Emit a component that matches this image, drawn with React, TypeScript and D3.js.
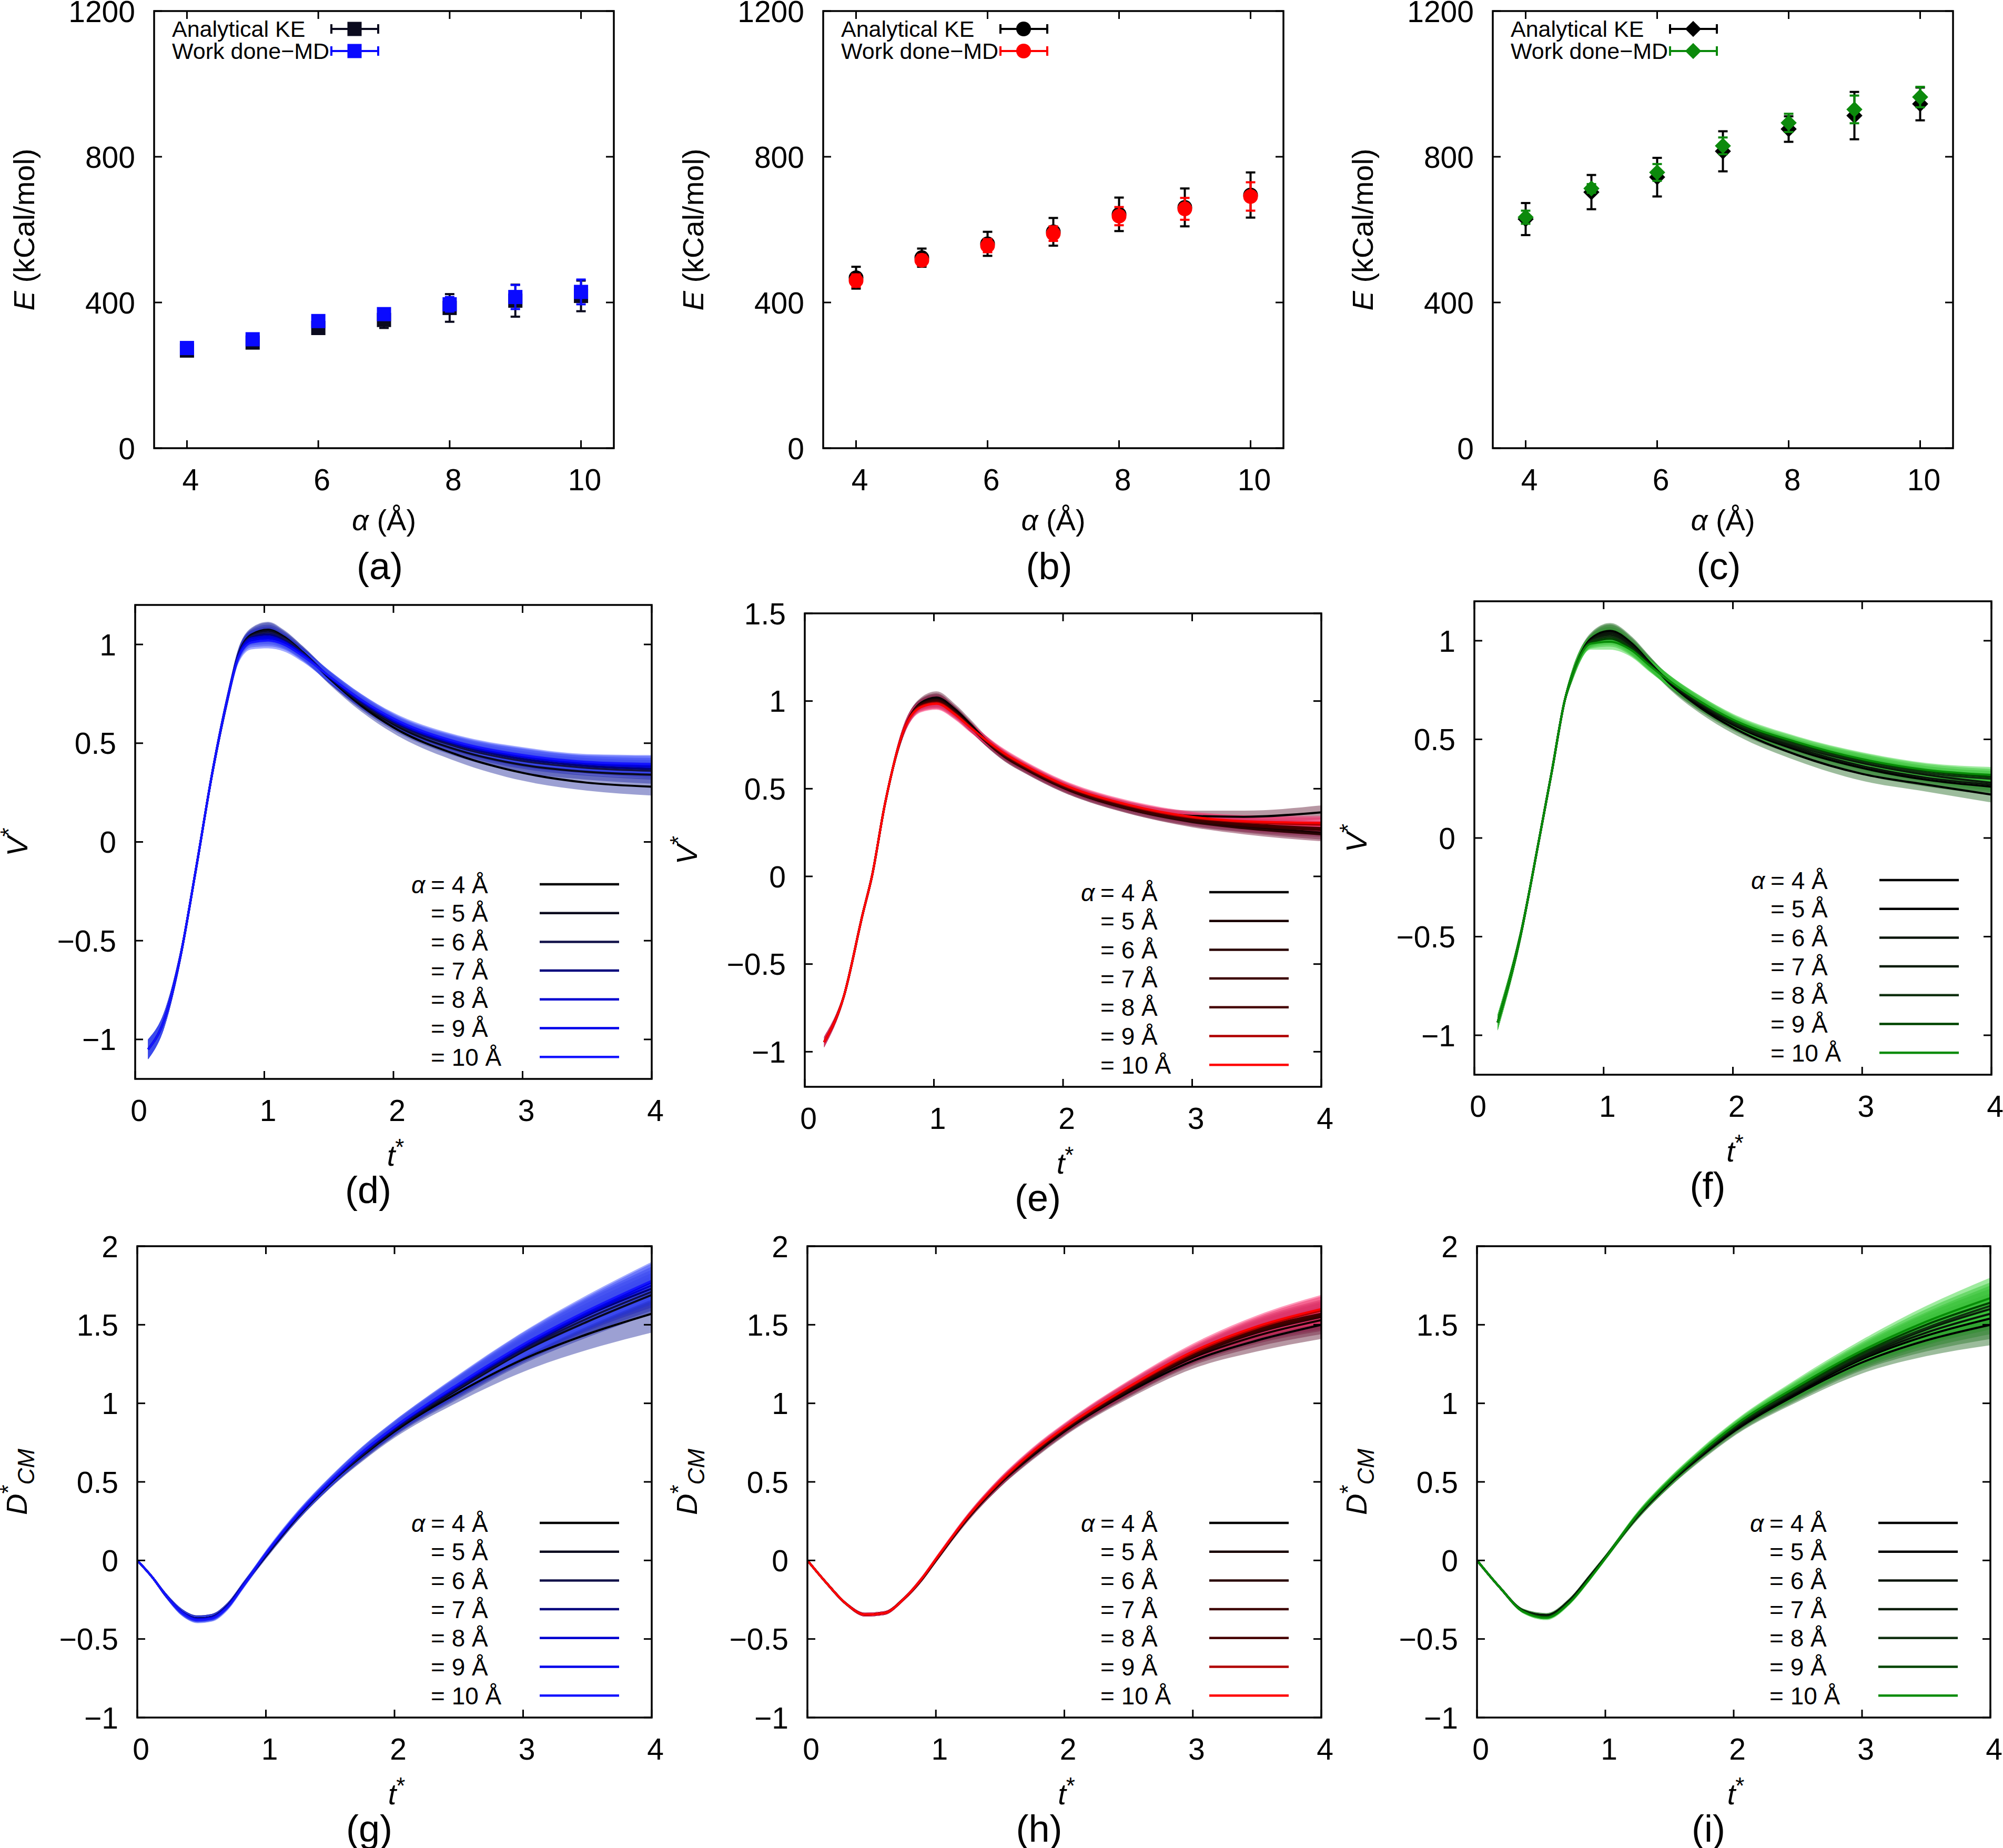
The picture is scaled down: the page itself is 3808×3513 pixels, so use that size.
'use client';
import React, { useEffect, useRef } from 'react';
import * as d3 from 'd3';

const FONT = '"Liberation Sans", Arial, Helvetica, sans-serif';
const WIDTH = 3808;
const HEIGHT = 3513;

// alpha (Å) for every series
const alphas = [4, 5, 6, 7, 8, 9, 10];

// ---- energy vs alpha, kcal/mol (panels a-c)
const keBlue = [268, 290, 330, 352, 385, 405, 418];
const keBlueErr = [12, 14, 16, 22, 38, 44, 42];
const mdBlue = [275, 299, 349, 368, 395, 415, 429];
const mdBlueErr = [8, 10, 12, 15, 20, 33, 34];

const keRed = [468, 523, 561, 594, 642, 661, 695];
const keRedErr = [30, 25, 33, 38, 46, 52, 62];
const mdRed = [460, 516, 556, 589, 637, 657, 691];
const mdRedErr = [17, 15, 18, 20, 25, 30, 39];

const keGreen = [629, 703, 744, 815, 876, 913, 945];
const keGreenErr = [44, 47, 53, 55, 35, 65, 45];
const mdGreen = [634, 713, 757, 830, 893, 930, 964];
const mdGreenErr = [18, 12, 23, 23, 25, 38, 28];

// ---- V* vs t* (panels d-f), one row per alpha
const vBlueT = [0.1, 0.22, 0.35, 0.47, 0.6, 0.72, 0.8, 0.9, 1.03, 1.15, 1.3, 1.5, 1.75, 2.0, 2.5, 3.0, 3.5, 4.0];
const vBlue = [
  [-1.05, -0.91, -0.58, -0.14, 0.36, 0.74, 0.95, 1.05, 1.075, 1.04, 0.96, 0.83, 0.69, 0.58, 0.44, 0.35, 0.3, 0.28],
  [-1.05, -0.91, -0.58, -0.14, 0.36, 0.74, 0.95, 1.045, 1.07, 1.035, 0.96, 0.835, 0.7, 0.595, 0.465, 0.39, 0.355, 0.34],
  [-1.05, -0.91, -0.58, -0.14, 0.36, 0.74, 0.945, 1.04, 1.06, 1.03, 0.955, 0.835, 0.705, 0.605, 0.48, 0.41, 0.375, 0.36],
  [-1.05, -0.91, -0.58, -0.14, 0.36, 0.74, 0.945, 1.035, 1.05, 1.02, 0.95, 0.835, 0.71, 0.61, 0.49, 0.42, 0.385, 0.37],
  [-1.05, -0.91, -0.58, -0.14, 0.36, 0.74, 0.94, 1.03, 1.04, 1.015, 0.95, 0.84, 0.715, 0.615, 0.495, 0.43, 0.395, 0.38],
  [-1.05, -0.91, -0.58, -0.14, 0.36, 0.74, 0.94, 1.02, 1.03, 1.01, 0.945, 0.84, 0.72, 0.62, 0.5, 0.435, 0.4, 0.39],
  [-1.05, -0.91, -0.58, -0.14, 0.36, 0.74, 0.935, 1.01, 1.02, 1.0, 0.94, 0.84, 0.72, 0.625, 0.505, 0.44, 0.405, 0.395],
];
const vBlueSd = [0.05, 0.04, 0.03, 0.03, 0.03, 0.03, 0.03, 0.035, 0.04, 0.035, 0.03, 0.03, 0.03, 0.03, 0.035, 0.04, 0.04, 0.045];

const vRedT = [0.15, 0.3, 0.45, 0.52, 0.62, 0.77, 0.9, 1.02, 1.16, 1.28, 1.4, 1.55, 1.7, 2.0, 2.5, 3.0, 3.4, 4.0];
const vRed = [
  [-0.945, -0.69, -0.21, 0.0, 0.41, 0.84, 0.99, 1.02, 0.955, 0.87, 0.78, 0.69, 0.625, 0.515, 0.4, 0.345, 0.34, 0.365],
  [-0.945, -0.69, -0.21, 0.0, 0.41, 0.84, 0.985, 1.01, 0.945, 0.86, 0.77, 0.68, 0.615, 0.505, 0.385, 0.315, 0.285, 0.25],
  [-0.945, -0.69, -0.21, 0.0, 0.41, 0.84, 0.98, 1.005, 0.94, 0.855, 0.77, 0.68, 0.615, 0.505, 0.385, 0.31, 0.275, 0.24],
  [-0.945, -0.69, -0.21, 0.0, 0.41, 0.84, 0.98, 1.0, 0.94, 0.855, 0.772, 0.685, 0.62, 0.51, 0.39, 0.32, 0.29, 0.265],
  [-0.945, -0.69, -0.21, 0.0, 0.41, 0.84, 0.975, 0.995, 0.935, 0.855, 0.775, 0.69, 0.625, 0.515, 0.4, 0.33, 0.3, 0.275],
  [-0.945, -0.69, -0.21, 0.0, 0.41, 0.84, 0.97, 0.99, 0.93, 0.853, 0.777, 0.695, 0.63, 0.52, 0.405, 0.335, 0.31, 0.295],
  [-0.945, -0.69, -0.21, 0.0, 0.41, 0.84, 0.965, 0.985, 0.925, 0.85, 0.78, 0.7, 0.635, 0.525, 0.41, 0.34, 0.315, 0.305],
];
const vRedSd = [0.03, 0.02, 0.02, 0.02, 0.02, 0.03, 0.03, 0.035, 0.03, 0.028, 0.025, 0.025, 0.025, 0.025, 0.025, 0.03, 0.035, 0.04];

const vGreenT = [0.18, 0.36, 0.5, 0.6, 0.7, 0.76, 0.9, 1.05, 1.22, 1.35, 1.5, 1.75, 2.0, 2.5, 3.0, 3.5, 4.0];
const vGreen = [
  [-0.935, -0.485, -0.01, 0.34, 0.7, 0.83, 1.01, 1.05, 0.985, 0.895, 0.79, 0.66, 0.56, 0.42, 0.325, 0.27, 0.22],
  [-0.935, -0.485, -0.01, 0.34, 0.7, 0.83, 1.005, 1.045, 0.98, 0.893, 0.795, 0.67, 0.575, 0.445, 0.355, 0.295, 0.26],
  [-0.935, -0.485, -0.01, 0.34, 0.7, 0.83, 1.0, 1.04, 0.975, 0.89, 0.795, 0.675, 0.58, 0.455, 0.365, 0.305, 0.27],
  [-0.935, -0.485, -0.01, 0.34, 0.7, 0.83, 1.0, 1.03, 0.965, 0.885, 0.8, 0.68, 0.585, 0.465, 0.38, 0.32, 0.28],
  [-0.935, -0.485, -0.01, 0.34, 0.7, 0.83, 0.995, 1.02, 0.96, 0.882, 0.8, 0.685, 0.59, 0.47, 0.39, 0.33, 0.3],
  [-0.935, -0.485, -0.01, 0.34, 0.7, 0.83, 0.99, 1.01, 0.955, 0.88, 0.8, 0.69, 0.595, 0.48, 0.395, 0.34, 0.31],
  [-0.935, -0.485, -0.01, 0.34, 0.7, 0.83, 0.985, 0.995, 0.95, 0.877, 0.8, 0.69, 0.6, 0.485, 0.4, 0.345, 0.32],
];
const vGreenSd = [0.04, 0.03, 0.02, 0.02, 0.02, 0.03, 0.03, 0.04, 0.035, 0.032, 0.03, 0.03, 0.03, 0.03, 0.035, 0.035, 0.04];

// ---- D*CM vs t* (panels g-i)
const dBlueT = [0, 0.12, 0.22, 0.35, 0.47, 0.58, 0.7, 0.83, 1.0, 1.25, 1.5, 1.75, 2.0, 2.5, 3.0, 3.5, 4.0];
const dBlue = [
  [0, -0.11, -0.22, -0.33, -0.37, -0.36, -0.29, -0.15, 0.03, 0.28, 0.49, 0.665, 0.82, 1.07, 1.28, 1.44, 1.57],
  [0, -0.11, -0.22, -0.33, -0.37, -0.36, -0.29, -0.15, 0.03, 0.28, 0.49, 0.67, 0.83, 1.09, 1.33, 1.52, 1.69],
  [0, -0.11, -0.22, -0.33, -0.37, -0.36, -0.29, -0.15, 0.035, 0.285, 0.495, 0.675, 0.835, 1.1, 1.34, 1.54, 1.71],
  [0, -0.11, -0.22, -0.33, -0.37, -0.36, -0.29, -0.15, 0.035, 0.285, 0.495, 0.68, 0.84, 1.11, 1.35, 1.56, 1.73],
  [0, -0.11, -0.22, -0.33, -0.375, -0.365, -0.295, -0.15, 0.04, 0.29, 0.5, 0.685, 0.845, 1.115, 1.36, 1.57, 1.75],
  [0, -0.11, -0.22, -0.335, -0.375, -0.365, -0.295, -0.155, 0.04, 0.29, 0.5, 0.69, 0.85, 1.12, 1.37, 1.58, 1.77],
  [0, -0.11, -0.22, -0.335, -0.38, -0.37, -0.3, -0.155, 0.045, 0.295, 0.505, 0.69, 0.85, 1.125, 1.375, 1.59, 1.78],
];
const dBlueSd = [0, 0.01, 0.015, 0.02, 0.02, 0.02, 0.02, 0.02, 0.02, 0.025, 0.03, 0.035, 0.04, 0.06, 0.08, 0.1, 0.12];

const dRedT = [0, 0.15, 0.3, 0.45, 0.6, 0.75, 0.9, 1.0, 1.25, 1.5, 1.75, 2.0, 2.5, 3.0, 3.5, 4.0];
const dRed = [
  [0, -0.145, -0.275, -0.345, -0.335, -0.245, -0.11, 0.0, 0.27, 0.49, 0.665, 0.82, 1.07, 1.27, 1.4, 1.5],
  [0, -0.145, -0.275, -0.345, -0.335, -0.245, -0.11, 0.0, 0.27, 0.49, 0.67, 0.825, 1.08, 1.29, 1.43, 1.53],
  [0, -0.145, -0.275, -0.345, -0.335, -0.245, -0.11, 0.0, 0.275, 0.495, 0.675, 0.83, 1.085, 1.3, 1.45, 1.55],
  [0, -0.145, -0.275, -0.345, -0.335, -0.245, -0.11, 0.005, 0.275, 0.495, 0.68, 0.835, 1.09, 1.305, 1.46, 1.56],
  [0, -0.145, -0.275, -0.345, -0.335, -0.245, -0.11, 0.005, 0.275, 0.5, 0.68, 0.835, 1.095, 1.31, 1.47, 1.57],
  [0, -0.145, -0.275, -0.345, -0.335, -0.245, -0.105, 0.005, 0.28, 0.5, 0.685, 0.84, 1.1, 1.32, 1.48, 1.59],
  [0, -0.145, -0.275, -0.345, -0.335, -0.245, -0.105, 0.01, 0.28, 0.505, 0.69, 0.845, 1.105, 1.33, 1.49, 1.6],
];
const dRedSd = [0, 0.01, 0.01, 0.012, 0.012, 0.012, 0.015, 0.015, 0.02, 0.025, 0.028, 0.03, 0.04, 0.05, 0.07, 0.09];

const dGreenT = [0, 0.18, 0.36, 0.54, 0.72, 0.88, 1.0, 1.25, 1.5, 1.75, 2.0, 2.5, 3.0, 3.5, 4.0];
const dGreen = [
  [0, -0.174, -0.32, -0.35, -0.255, -0.1, 0.02, 0.28, 0.49, 0.665, 0.82, 1.06, 1.26, 1.4, 1.5],
  [0, -0.174, -0.32, -0.35, -0.255, -0.1, 0.02, 0.28, 0.49, 0.67, 0.825, 1.07, 1.28, 1.43, 1.54],
  [0, -0.174, -0.32, -0.355, -0.26, -0.105, 0.02, 0.28, 0.495, 0.675, 0.835, 1.08, 1.29, 1.45, 1.57],
  [0, -0.174, -0.32, -0.355, -0.26, -0.105, 0.02, 0.285, 0.495, 0.68, 0.84, 1.085, 1.3, 1.47, 1.6],
  [0, -0.174, -0.325, -0.36, -0.265, -0.11, 0.015, 0.285, 0.5, 0.68, 0.845, 1.09, 1.31, 1.48, 1.62],
  [0, -0.174, -0.325, -0.36, -0.265, -0.11, 0.015, 0.29, 0.5, 0.685, 0.85, 1.1, 1.32, 1.5, 1.64],
  [0, -0.174, -0.325, -0.365, -0.27, -0.115, 0.015, 0.29, 0.505, 0.69, 0.855, 1.11, 1.335, 1.52, 1.67],
];
const dGreenSd = [0, 0.01, 0.012, 0.015, 0.015, 0.015, 0.015, 0.02, 0.025, 0.028, 0.03, 0.05, 0.07, 0.1, 0.13];

// line colours (alpha 4 -> 10) and the lighter fill used for the spread bands
const blueLines = ['#000000', '#0a0a1e', '#12124a', '#00007c', '#0000d0', '#0000ea', '#1414ff'];
const blueBands = ['#3a42a8', '#3038ac', '#2830b4', '#2428c0', '#2030d8', '#3040f0', '#4858ff'];
const redLines = ['#000000', '#180000', '#2a0404', '#3c0000', '#460000', '#b00000', '#ff0000'];
const redBands = ['#703048', '#782c48', '#802848', '#882850', '#982850', '#d82858', '#ff3878'];
const greenLines = ['#000000', '#000000', '#0a150a', '#0a1c0a', '#103010', '#004400', '#088c08'];
const greenBands = ['#3a7a3a', '#367e36', '#328632', '#2e8e2e', '#289c28', '#30b830', '#40d840'];

const fmt = (v: number) => (v < 0 ? '\u2212' + String(Math.abs(v)) : String(v));

// draws the box, mirrored inward ticks and tick labels
function drawFrame(svg: any, box: any, x: any, y: any, xTicks: number[], yTicks: number[]) {
  const g = svg.append('g').attr('font-size', 57);
  const TICK = 15;
  xTicks.forEach((v) => {
    const px = x(v);
    g.append('line').attr('x1', px).attr('x2', px).attr('y1', box.bottom).attr('y2', box.bottom - TICK);
    g.append('line').attr('x1', px).attr('x2', px).attr('y1', box.top).attr('y2', box.top + TICK);
    g.append('text')
      .attr('x', px + 7)
      .attr('y', box.bottom + 59)
      .attr('dy', '0.36em')
      .attr('text-anchor', 'middle')
      .text(fmt(v));
  });
  yTicks.forEach((v) => {
    const py = y(v);
    g.append('line').attr('x1', box.left).attr('x2', box.left + TICK).attr('y1', py).attr('y2', py);
    g.append('line').attr('x1', box.right).attr('x2', box.right - TICK).attr('y1', py).attr('y2', py);
    g.append('text')
      .attr('x', box.left - 36)
      .attr('y', py)
      .attr('dy', '0.36em')
      .attr('text-anchor', 'end')
      .text(fmt(v));
  });
  g.selectAll('line').attr('stroke', '#000').attr('stroke-width', 3);
  g.append('rect')
    .attr('x', box.left)
    .attr('y', box.top)
    .attr('width', box.right - box.left)
    .attr('height', box.bottom - box.top)
    .attr('fill', 'none')
    .attr('stroke', '#000')
    .attr('stroke-width', 3.5);
}

function marker(g: any, shape: string, cx: number, cy: number, color: string) {
  let path;
  let rot = 0;
  if (shape === 'square') path = d3.symbol(d3.symbolSquare, 27 * 27)();
  else if (shape === 'circle') path = d3.symbol(d3.symbolCircle, Math.PI * 14 * 14)();
  else {
    path = d3.symbol(d3.symbolSquare, 470)();
    rot = 45;
  }
  g.append('path')
    .attr('d', path)
    .attr('fill', color)
    .attr('transform', `translate(${cx},${cy}) rotate(${rot})`);
}

function drawEnergy(svg: any, box: any, series: any[], shape: string, label: string) {
  const x = d3.scaleLinear().domain([3.5, 10.5]).range([box.left, box.right]);
  const y = d3.scaleLinear().domain([0, 1200]).range([box.bottom, box.top]);
  drawFrame(svg, box, x, y, [4, 6, 8, 10], [0, 400, 800, 1200]);

  series.forEach((s, si) => {
    const g = svg.append('g');
    s.values.forEach((v: number, i: number) => {
      const px = x(alphas[i]);
      const lo = y(v - s.err[i]);
      const hi = y(v + s.err[i]);
      const bars = g.append('g').attr('stroke', s.color).attr('stroke-width', 4);
      bars.append('line').attr('x1', px).attr('x2', px).attr('y1', lo).attr('y2', hi);
      bars.append('line').attr('x1', px - 9).attr('x2', px + 9).attr('y1', lo).attr('y2', lo);
      bars.append('line').attr('x1', px - 9).attr('x2', px + 9).attr('y1', hi).attr('y2', hi);
      marker(g, shape, px, y(v), s.color);
    });

    // key entry: title then errorbar sample
    const ly = box.top + 34 + si * 42;
    const lg = svg.append('g');
    lg.append('text')
      .attr('x', box.left + 34)
      .attr('y', ly)
      .attr('dy', '0.36em')
      .attr('font-size', 43)
      .text(s.name);
    const lb = lg.append('g').attr('stroke', s.color).attr('stroke-width', 4);
    lb.append('line').attr('x1', box.left + 337).attr('x2', box.left + 426).attr('y1', ly).attr('y2', ly);
    lb.append('line').attr('x1', box.left + 337).attr('x2', box.left + 337).attr('y1', ly - 9).attr('y2', ly + 9);
    lb.append('line').attr('x1', box.left + 426).attr('x2', box.left + 426).attr('y1', ly - 9).attr('y2', ly + 9);
    marker(lg, shape, box.left + 381, ly, s.color);
  });

  const cx = (box.left + box.right) / 2;
  const cy = (box.top + box.bottom) / 2;
  const yl = svg
    .append('text')
    .attr('transform', `translate(${box.left - 248},${cy}) rotate(-90)`)
    .attr('text-anchor', 'middle')
    .attr('dy', '0.36em')
    .attr('font-size', 56);
  yl.append('tspan').attr('font-style', 'italic').text('E');
  yl.append('tspan').text(' (kCal/mol)');

  const xl = svg
    .append('text')
    .attr('x', cx)
    .attr('y', box.bottom + 136)
    .attr('dy', '0.36em')
    .attr('text-anchor', 'middle')
    .attr('font-size', 56);
  xl.append('tspan').attr('font-style', 'italic').text('α');
  xl.append('tspan').text(' (Å)');

  svg
    .append('text')
    .attr('x', cx - 8)
    .attr('y', box.bottom + 223)
    .attr('dy', '0.36em')
    .attr('text-anchor', 'middle')
    .attr('font-size', 72)
    .text(label);
}

function drawCurves(
  svg: any,
  id: string,
  box: any,
  t: number[],
  rows: number[][],
  sd: number[],
  lineColors: string[],
  bandColors: string[],
  yDomain: number[],
  yTicks: number[],
  kind: string,
  label: string
) {
  const x = d3.scaleLinear().domain([0, 4]).range([box.left, box.right]);
  const y = d3.scaleLinear().domain(yDomain).range([box.bottom, box.top]);

  svg
    .append('clipPath')
    .attr('id', id)
    .append('rect')
    .attr('x', box.left)
    .attr('y', box.top)
    .attr('width', box.right - box.left)
    .attr('height', box.bottom - box.top);

  const plot = svg.append('g').attr('clip-path', `url(#${id})`);

  const area = d3
    .area<number>()
    .x((_, i) => x(t[i]))
    .curve(d3.curveMonotoneX);
  const line = d3
    .line<number>()
    .x((_, i) => x(t[i]))
    .y((v) => y(v))
    .curve(d3.curveMonotoneX);

  // spread bands first, mean lines on top
  rows.forEach((r, k) => {
    plot
      .append('path')
      .datum(r)
      .attr('d', area.y0((v, i) => y(v - sd[i])).y1((v, i) => y(v + sd[i])))
      .attr('fill', bandColors[k])
      .attr('fill-opacity', 0.5)
      .attr('stroke', 'none');
  });
  rows.forEach((r, k) => {
    plot
      .append('path')
      .datum(r)
      .attr('d', line)
      .attr('fill', 'none')
      .attr('stroke', lineColors[k])
      .attr('stroke-width', 4)
      .attr('stroke-linejoin', 'round');
  });

  drawFrame(svg, box, x, y, [0, 1, 2, 3, 4], yTicks);

  // key
  const kg = svg.append('g').attr('font-size', 46);
  alphas.forEach((a, i) => {
    const ly = box.bottom - 370 + i * 54.7;
    if (i === 0) {
      kg.append('text')
        .attr('x', box.right - 457)
        .attr('y', ly)
        .attr('dy', '0.36em')
        .attr('font-style', 'italic')
        .text('α');
    }
    kg.append('text')
      .attr('x', box.right - 420)
      .attr('y', ly)
      .attr('dy', '0.36em')
      .text(`= ${a} Å`);
    kg.append('line')
      .attr('x1', box.right - 213)
      .attr('x2', box.right - 62)
      .attr('y1', ly)
      .attr('y2', ly)
      .attr('stroke', lineColors[i])
      .attr('stroke-width', 4.5);
  });

  const cx = (box.left + box.right) / 2;
  const cy = (box.top + box.bottom) / 2;

  const yl = svg
    .append('text')
    .attr('transform', `translate(${box.left - (kind === 'V' ? 225 : 230)},${cy}) rotate(-90)`)
    .attr('text-anchor', 'middle')
    .attr('dy', '0.36em')
    .attr('font-size', 56);
  if (kind === 'V') {
    yl.append('tspan').attr('font-style', 'italic').text('V');
    yl.append('tspan').attr('dy', -20).attr('font-size', 44).text('*');
  } else {
    yl.append('tspan').attr('font-style', 'italic').text('D');
    yl.append('tspan').attr('dy', -20).attr('font-size', 44).text('*');
    yl.append('tspan').attr('dy', 34).attr('font-size', 44).attr('font-style', 'italic').text('CM');
  }

  const xl = svg
    .append('text')
    .attr('x', cx + 4)
    .attr('y', box.bottom + 145)
    .attr('dy', '0.36em')
    .attr('text-anchor', 'middle')
    .attr('font-size', 56);
  xl.append('tspan').attr('font-style', 'italic').text('t');
  xl.append('tspan').attr('dy', -20).attr('font-size', 44).text('*');

  svg
    .append('text')
    .attr('x', cx - 48)
    .attr('y', box.bottom + 210)
    .attr('dy', '0.36em')
    .attr('text-anchor', 'middle')
    .attr('font-size', 72)
    .text(label);
}

const App = () => {
  const svgRef = useRef<SVGSVGElement>(null);

  useEffect(() => {
    const svg = d3.select(svgRef.current);
    svg.selectAll('*').remove();
    svg.attr('font-family', FONT).attr('fill', '#000');

    svg.append('rect').attr('width', WIDTH).attr('height', HEIGHT).attr('fill', '#fff');

    // top row: energies
    drawEnergy(
      svg,
      { left: 293, right: 1167, top: 21, bottom: 852 },
      [
        { name: 'Analytical KE', values: keBlue, err: keBlueErr, color: '#0a0a1e' },
        { name: 'Work done\u2212MD', values: mdBlue, err: mdBlueErr, color: '#0a0aff' },
      ],
      'square',
      '(a)'
    );
    drawEnergy(
      svg,
      { left: 1565, right: 2440, top: 21, bottom: 852 },
      [
        { name: 'Analytical KE', values: keRed, err: keRedErr, color: '#000000' },
        { name: 'Work done\u2212MD', values: mdRed, err: mdRedErr, color: '#ff0000' },
      ],
      'circle',
      '(b)'
    );
    drawEnergy(
      svg,
      { left: 2838, right: 3713, top: 21, bottom: 852 },
      [
        { name: 'Analytical KE', values: keGreen, err: keGreenErr, color: '#000000' },
        { name: 'Work done\u2212MD', values: mdGreen, err: mdGreenErr, color: '#0c8a0c' },
      ],
      'diamond',
      '(c)'
    );

    // middle row: V*
    const vTicks = [-1, -0.5, 0, 0.5, 1];
    drawCurves(svg, 'clip-d', { left: 257, right: 1239, top: 1150, bottom: 2051 }, vBlueT, vBlue, vBlueSd,
      blueLines, blueBands, [-1.2, 1.2], vTicks, 'V', '(d)');
    drawCurves(svg, 'clip-e', { left: 1530, right: 2512, top: 1166, bottom: 2066 }, vRedT, vRed, vRedSd,
      redLines, redBands, [-1.2, 1.5], [-1, -0.5, 0, 0.5, 1, 1.5], 'V', '(e)');
    drawCurves(svg, 'clip-f', { left: 2803, right: 3786, top: 1143, bottom: 2043 }, vGreenT, vGreen, vGreenSd,
      greenLines, greenBands, [-1.2, 1.2], vTicks, 'V', '(f)');

    // bottom row: D*CM
    const dTicks = [-1, -0.5, 0, 0.5, 1, 1.5, 2];
    drawCurves(svg, 'clip-g', { left: 261, right: 1239, top: 2369, bottom: 3265 }, dBlueT, dBlue, dBlueSd,
      blueLines, blueBands, [-1, 2], dTicks, 'D', '(g)');
    drawCurves(svg, 'clip-h', { left: 1535, right: 2512, top: 2369, bottom: 3265 }, dRedT, dRed, dRedSd,
      redLines, redBands, [-1, 2], dTicks, 'D', '(h)');
    drawCurves(svg, 'clip-i', { left: 2808, right: 3784, top: 2369, bottom: 3265 }, dGreenT, dGreen, dGreenSd,
      greenLines, greenBands, [-1, 2], dTicks, 'D', '(i)');
  }, []);

  return (
    <svg
      ref={svgRef}
      width={WIDTH}
      height={HEIGHT}
      style={{ position: 'absolute', left: 0, top: 0, display: 'block' }}
    ></svg>
  );
};

export default App;
